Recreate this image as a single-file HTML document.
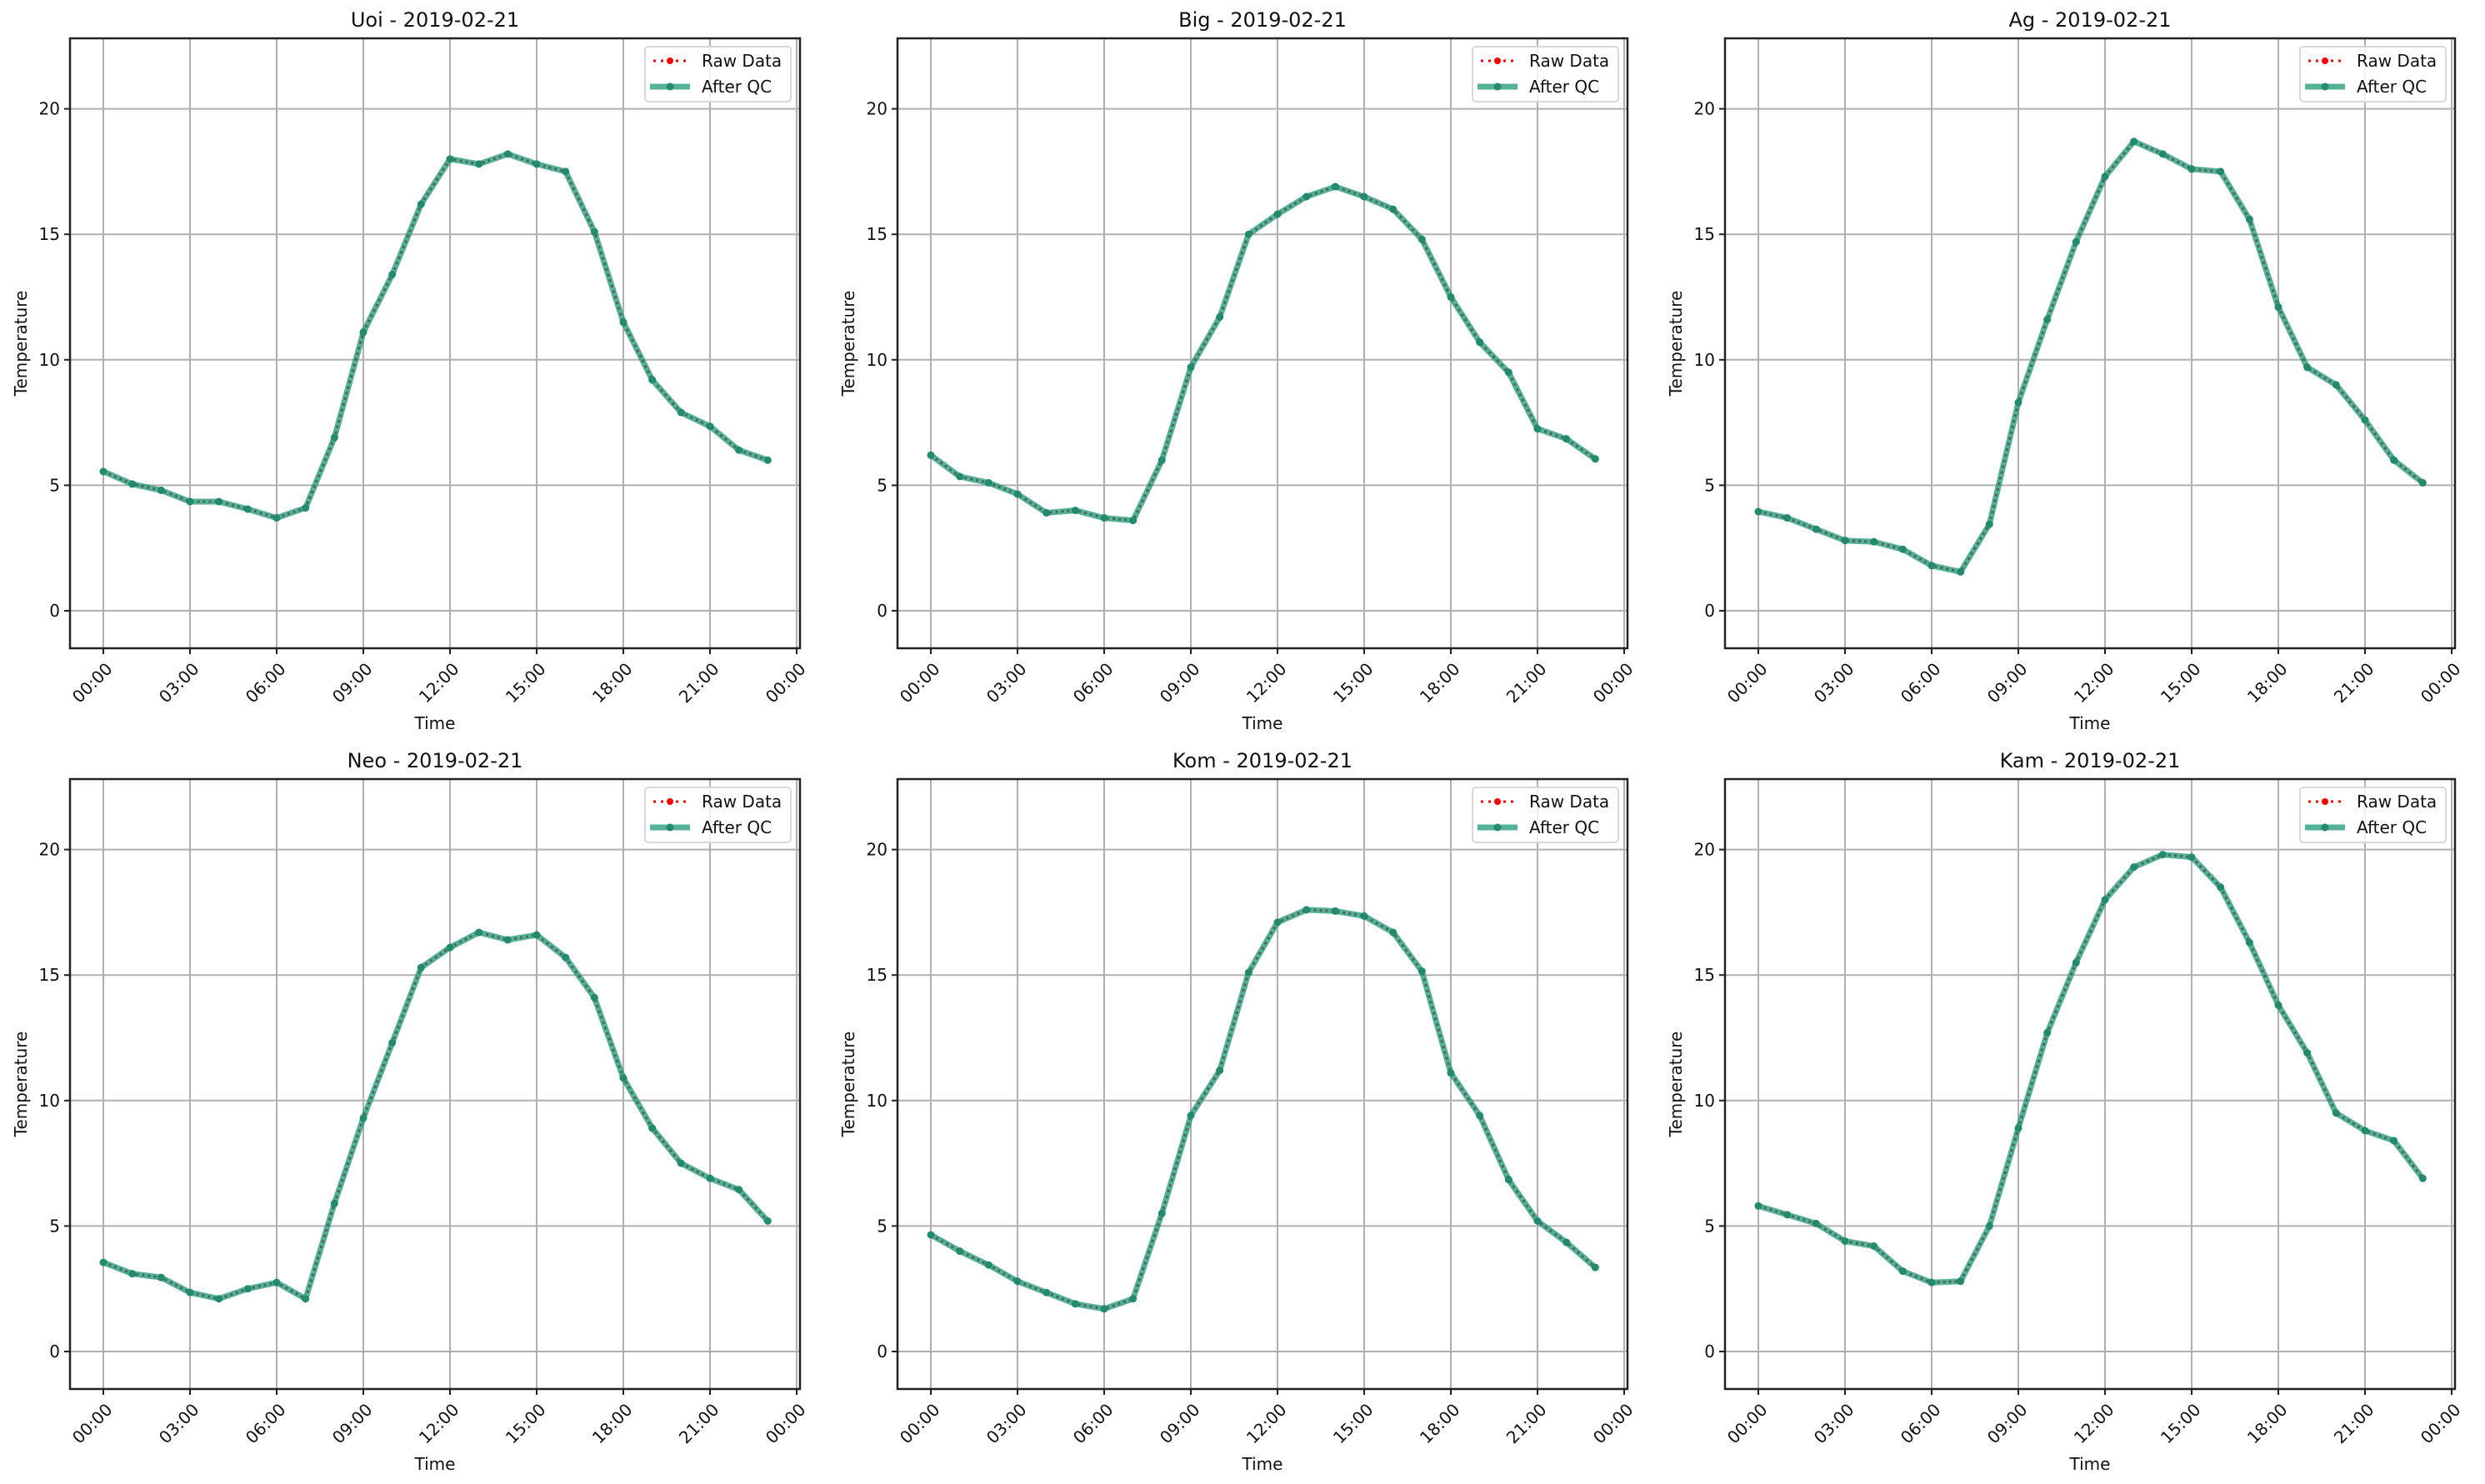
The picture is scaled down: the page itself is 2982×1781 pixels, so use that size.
<!DOCTYPE html>
<html><head><meta charset="utf-8"><style>html,body{margin:0;padding:0;background:#fff}svg{display:block}</style></head>
<body>
<svg id="s" width="2982" height="1781" xmlns="http://www.w3.org/2000/svg" font-family="'DejaVu Sans','Liberation Sans',sans-serif"></svg>
<script>
const D=[
["Uoi",[5.55,5.05,4.8,4.35,4.35,4.05,3.7,4.1,6.9,11.1,13.4,16.2,18.0,17.8,18.2,17.8,17.5,15.1,11.5,9.2,7.9,7.35,6.4,6.0]],
["Big",[6.2,5.35,5.1,4.65,3.9,4.0,3.7,3.6,6.0,9.7,11.7,15.0,15.8,16.5,16.9,16.5,16.0,14.8,12.5,10.7,9.5,7.25,6.85,6.05]],
["Ag",[3.95,3.7,3.25,2.8,2.75,2.45,1.8,1.55,3.45,8.3,11.6,14.7,17.3,18.7,18.2,17.6,17.5,15.6,12.1,9.7,9.0,7.6,6.0,5.1]],
["Neo",[3.55,3.1,2.95,2.35,2.1,2.5,2.75,2.1,5.9,9.3,12.3,15.3,16.1,16.7,16.4,16.6,15.7,14.1,10.9,8.9,7.5,6.9,6.45,5.2]],
["Kom",[4.65,4.0,3.45,2.8,2.35,1.9,1.7,2.1,5.5,9.4,11.2,15.1,17.1,17.6,17.55,17.35,16.7,15.15,11.1,9.4,6.85,5.2,4.35,3.35]],
["Kam",[5.8,5.45,5.1,4.4,4.2,3.2,2.75,2.8,5.0,8.9,12.7,15.5,18.0,19.3,19.8,19.7,18.5,16.3,13.8,11.9,9.5,8.8,8.4,6.9]]];
let h='';
D.forEach((d,i)=>{
 const c=i%3,r=Math.floor(i/3),ox=c*993,oy=r*889;
 const L=84+ox,R=960+ox,T=46+oy,B=778+oy;
 const X=t=>124+ox+t*34.667, Y=v=>733+oy-v*30.12;
 for(let k=0;k<=8;k++){const x=X(k*3);h+=`<line x1="${x}" y1="${T}" x2="${x}" y2="${B}" stroke="#b0b0b0" stroke-width="2"/>`;
  h+=`<line x1="${x}" y1="${B}" x2="${x}" y2="${B+7}" stroke="#222" stroke-width="2"/>`;
  const lab=String((k*3)%24).padStart(2,'0')+':00';
  h+=`<text transform="translate(${x+12},${B+26}) rotate(-45)" text-anchor="end" font-size="20" fill="#111">${lab}</text>`;}
 for(let v=0;v<=20;v+=5){const y=Y(v);h+=`<line x1="${L}" y1="${y}" x2="${R}" y2="${y}" stroke="#b0b0b0" stroke-width="2"/>`;
  h+=`<line x1="${L-7}" y1="${y}" x2="${L}" y2="${y}" stroke="#222" stroke-width="2"/>`;
  h+=`<text x="${L-12}" y="${y+7}" text-anchor="end" font-size="20" fill="#111">${v}</text>`;}
 const pts=d[1].map((v,t)=>X(t).toFixed(1)+','+Y(v).toFixed(1)).join(' ');
 h+=`<polyline points="${pts}" fill="none" stroke="#ff0000" stroke-width="3" stroke-dasharray="3,4"/>`;
 h+=`<polyline points="${pts}" fill="none" stroke="#2a9d7d" stroke-opacity="0.8" stroke-width="7" stroke-linejoin="round"/>`;
 h+=`<polyline points="${pts}" fill="none" stroke="#4a5e56" stroke-opacity="0.7" stroke-width="3" stroke-dasharray="3,4"/>`;
 d[1].forEach((v,t)=>{h+=`<circle cx="${X(t)}" cy="${Y(v)}" r="4.5" fill="#238a6c"/>`;});
 h+=`<rect x="${L}" y="${T}" width="${R-L}" height="${B-T}" fill="none" stroke="#222" stroke-width="2.5"/>`;
 h+=`<text x="${(L+R)/2}" y="${T-14}" text-anchor="middle" font-size="24" fill="#111">${d[0]} - 2019-02-21</text>`;
 h+=`<text x="${(L+R)/2}" y="${B+97}" text-anchor="middle" font-size="20" fill="#111">Time</text>`;
 h+=`<text transform="translate(${32+ox},${(T+B)/2}) rotate(-90)" text-anchor="middle" font-size="20" fill="#111">Temperature</text>`;
 const lx=774+ox, ly=56+oy;
 h+=`<rect x="${lx}" y="${ly}" width="175" height="66" rx="4" fill="#fff" fill-opacity="0.8" stroke="#d8d8d8" stroke-width="2"/>`;
 h+=`<line x1="${lx+10}" y1="${ly+17}" x2="${lx+50}" y2="${ly+17}" stroke="#ff0000" stroke-width="3" stroke-dasharray="3,6"/>`;
 h+=`<circle cx="${lx+30}" cy="${ly+17}" r="4" fill="#ff0000"/>`;
 h+=`<text x="${lx+68}" y="${ly+24}" font-size="20" fill="#111">Raw Data</text>`;
 h+=`<line x1="${lx+6}" y1="${ly+48}" x2="${lx+54}" y2="${ly+48}" stroke="#2a9d7d" stroke-opacity="0.8" stroke-width="7"/>`;
 h+=`<circle cx="${lx+30}" cy="${ly+48}" r="4.5" fill="#238a6c"/>`;
 h+=`<text x="${lx+68}" y="${ly+55}" font-size="20" fill="#111">After QC</text>`;
});
document.getElementById('s').innerHTML=h;
</script>
</body></html>
